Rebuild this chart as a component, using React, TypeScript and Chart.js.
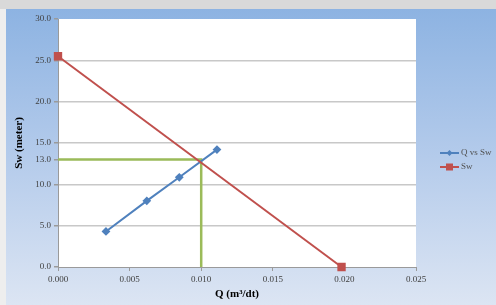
import React, { useEffect, useRef } from "react";
import { Chart, registerables } from "chart.js";

Chart.register(...registerables);

const qVsSwX = [0.00335, 0.0062, 0.00847, 0.0111];
const qVsSwY = [4.3, 8.0, 10.85, 14.2];
const swX = [0.0, 0.0198];
const swY = [25.5, 0.0];
const guideX = [0.0, 0.01, 0.01];
const guideY = [13.0, 13.0, 0.0];
const yTicks = [0, 5, 10, 13, 15, 20, 25, 30];
const xTicks = [0, 0.005, 0.01, 0.015, 0.02, 0.025];

const FONT = "'Liberation Serif', 'Times New Roman', serif";

const toPts = (xs: number[], ys: number[]) => xs.map((x, i) => ({ x, y: ys[i] }));

const plotBg = {
  id: "plotBg",
  beforeDraw(chart: any) {
    const { ctx, chartArea } = chart;
    ctx.save();
    ctx.fillStyle = "#ffffff";
    ctx.fillRect(chartArea.left, chartArea.top, chartArea.right - chartArea.left, chartArea.bottom - chartArea.top);
    ctx.restore();
  },
};

const customLegend = {
  id: "customLegend",
  afterDraw(chart: any) {
    const { ctx } = chart;
    const items = chart.data.datasets.filter((d: any) => d.label);
    const x0 = 434;
    let y = 144;
    ctx.save();
    items.forEach((d: any) => {
      ctx.strokeStyle = d.borderColor;
      ctx.lineWidth = 2;
      ctx.beginPath();
      ctx.moveTo(x0, y);
      ctx.lineTo(x0 + 19, y);
      ctx.stroke();
      ctx.fillStyle = d.pointBackgroundColor;
      const cx = x0 + 9.5;
      if (d.pointStyle === "rectRot") {
        ctx.beginPath();
        ctx.moveTo(cx, y - 3);
        ctx.lineTo(cx + 3, y);
        ctx.lineTo(cx, y + 3);
        ctx.lineTo(cx - 3, y);
        ctx.closePath();
        ctx.fill();
      } else {
        ctx.fillRect(cx - 3.5, y - 3.5, 7, 7);
      }
      ctx.fillStyle = "#505050";
      ctx.font = `9px ${FONT}`;
      ctx.textBaseline = "middle";
      ctx.textAlign = "left";
      ctx.fillText(d.label, x0 + 21, y);
      y += 14;
    });
    ctx.restore();
  },
};

export default function App() {
  const ref = useRef<HTMLCanvasElement | null>(null);

  useEffect(() => {
    if (!ref.current) return;
    const chart = new Chart(ref.current, {
      type: "scatter",
      data: {
        datasets: [
          {
            label: "",
            data: toPts(guideX, guideY),
            showLine: true,
            borderColor: "#9BBB59",
            backgroundColor: "#9BBB59",
            borderWidth: 2.5,
            pointRadius: 0,
            order: 3,
          } as any,
          {
            label: "Q vs Sw",
            data: toPts(qVsSwX, qVsSwY),
            showLine: true,
            borderColor: "#4F81BD",
            backgroundColor: "#4F81BD",
            pointBackgroundColor: "#4F81BD",
            pointBorderColor: "#4F81BD",
            pointStyle: "rectRot",
            pointRadius: 3,
            borderWidth: 2,
            order: 2,
          } as any,
          {
            label: "Sw",
            data: toPts(swX, swY),
            showLine: true,
            borderColor: "#C0504D",
            backgroundColor: "#C0504D",
            pointBackgroundColor: "#C0504D",
            pointBorderColor: "#C0504D",
            pointStyle: "rect",
            pointRadius: 4.5,
            borderWidth: 2,
            clip: false,
            order: 1,
          } as any,
        ],
      },
      options: {
        responsive: false,
        animation: false,
        maintainAspectRatio: false,
        layout: { padding: { top: 10, right: 80, left: 0, bottom: 0 } },
        plugins: {
          legend: { display: false },
          tooltip: { enabled: false },
        },
        scales: {
          x: {
            type: "linear",
            min: 0,
            max: 0.025,
            afterBuildTicks: (axis: any) => {
              axis.ticks = xTicks.map((v) => ({ value: v }));
            },
            afterFit: (axis: any) => {
              axis.height = 38;
            },
            ticks: {
              font: { family: FONT, size: 9 },
              color: "#404040",
              padding: 3,
              maxRotation: 0,
              callback: (v: any) => Number(v).toFixed(3),
            },
            grid: {
              drawOnChartArea: false,
              drawTicks: true,
              tickLength: 4,
              tickColor: "#9a9a9a",
            },
            border: { display: true, color: "#9a9a9a", width: 1 },
            title: {
              display: true,
              text: "Q (m³/dt)",
              font: { family: FONT, size: 11, weight: "bold" },
              color: "#000000",
              padding: { top: 0, bottom: 4 },
            },
          },
          y: {
            type: "linear",
            min: 0,
            max: 30,
            afterBuildTicks: (axis: any) => {
              axis.ticks = yTicks.map((v) => ({ value: v }));
            },
            afterFit: (axis: any) => {
              axis.width = 52;
            },
            ticks: {
              font: { family: FONT, size: 9 },
              color: "#404040",
              padding: 3,
              callback: (v: any) => Number(v).toFixed(1),
            },
            grid: {
              color: (c: any) =>
                c.tick && (c.tick.value === 13 || c.tick.value === 30 || c.tick.value === 0)
                  ? "rgba(0,0,0,0)"
                  : "#c8c8c8",
              tickColor: "#9a9a9a",
              tickLength: 4,
              lineWidth: 1.5,
            },
            border: { display: true, color: "#9a9a9a", width: 1 },
            title: {
              display: true,
              text: "Sw (meter)",
              font: { family: FONT, size: 11, weight: "bold" },
              color: "#000000",
              padding: { top: 7, bottom: 0 },
            },
          },
        },
      },
      plugins: [plotBg, customLegend],
    });
    return () => chart.destroy();
  }, []);

  return (
    <div
      style={{
        position: "absolute",
        left: 0,
        top: 0,
        width: 496,
        height: 305,
        background: "#eeeeee",
        overflow: "hidden",
      }}
    >
      <div style={{ position: "absolute", left: 0, top: 0, width: 496, height: 9, background: "#d9d9d9" }} />
      <div
        style={{
          position: "absolute",
          left: 6,
          top: 9,
          width: 490,
          height: 296,
          background: "linear-gradient(to bottom, #8DB3E2 0%, #B4CBEB 50%, #DCE5F3 100%)",
        }}
      >
        <canvas ref={ref} width={490} height={296} style={{ display: "block" }} />
      </div>
    </div>
  );
}
